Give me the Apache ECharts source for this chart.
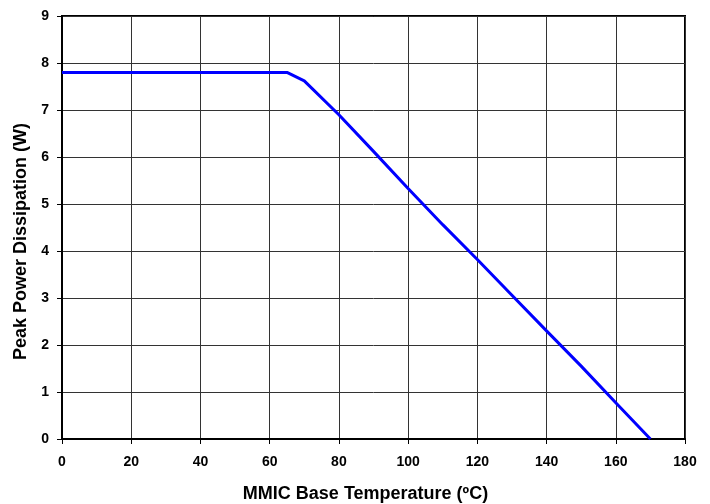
<!DOCTYPE html>
<html><head><meta charset="utf-8">
<script src="https://cdn.jsdelivr.net/npm/echarts@6/dist/echarts.min.js"></script>
<style>html,body{margin:0;padding:0;background:#fff}#c{width:710px;height:504px}</style>
</head><body><div id="c"></div>
<script>
const temps = [0, 10, 20, 30, 40, 50, 60, 65, 70, 80, 90, 100, 110, 120, 130, 140, 150, 160, 170];
const power = [7.8, 7.8, 7.8, 7.8, 7.8, 7.8, 7.8, 7.8, 7.62, 6.9, 6.12, 5.33, 4.56, 3.82, 3.06, 2.3, 1.55, 0.77, 0];
const xTitle = 'MMIC Base Temperature (ºC)';
const yTitle = 'Peak Power Dissipation (W)';

const chart = echarts.init(document.getElementById('c'));
const font = 'Liberation Sans, Arial, sans-serif';
chart.setOption({
  animation: false,
  grid: {left: 62, right: 25, top: 16, bottom: 65, show: true, borderColor: '#000', borderWidth: 2,
         containLabel: false, outerBoundsMode: 'none'},
  xAxis: {
    type: 'value', min: 0, max: 180, interval: 20,
    name: xTitle, nameLocation: 'middle', nameGap: 46,
    nameTextStyle: {fontFamily: font, fontWeight: 'bold', fontSize: 18, color: '#000', padding: [0, 16, 0, 0]},
    axisLine: {show: true, lineStyle: {color: '#000', width: 2}},
    axisTick: {show: true, length: 5, lineStyle: {color: '#000'}},
    axisLabel: {margin: 16, fontFamily: font, fontWeight: 'bold', fontSize: 14, color: '#000'},
    splitLine: {show: true, lineStyle: {color: '#333', width: 1}}
  },
  yAxis: {
    type: 'value', min: 0, max: 9, interval: 1,
    name: yTitle, nameLocation: 'middle', nameGap: 16,
    nameTextStyle: {fontFamily: font, fontWeight: 'bold', fontSize: 18, color: '#000', padding: [0, 28, 0, 0]},
    axisLine: {show: true, lineStyle: {color: '#000', width: 2}},
    axisTick: {show: true, length: 5, lineStyle: {color: '#000'}},
    axisLabel: {margin: 13, fontFamily: font, fontWeight: 'bold', fontSize: 14, color: '#000'},
    splitLine: {show: true, lineStyle: {color: '#333', width: 1}}
  },
  series: [{
    type: 'line',
    data: temps.map((t, i) => [t, power[i]]),
    showSymbol: false,
    lineStyle: {color: '#0000ff', width: 3},
    itemStyle: {color: '#0000ff'}
  }]
});
</script></body></html>
